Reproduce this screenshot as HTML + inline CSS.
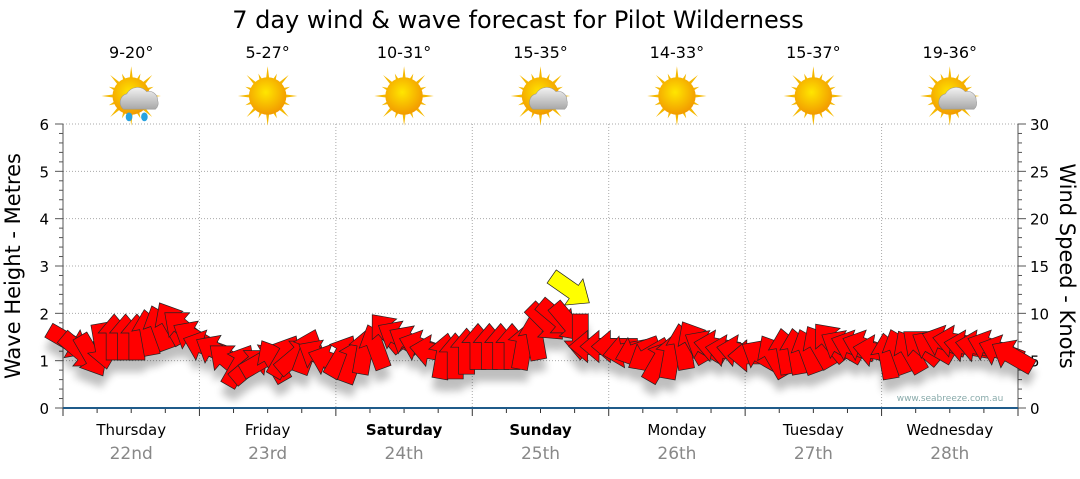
<!DOCTYPE html>
<html><head><meta charset="utf-8"><style>
body{margin:0;background:#fff;width:1080px;height:475px;overflow:hidden;font-family:"DejaVu Sans","Liberation Sans",sans-serif}
svg text{font-family:"DejaVu Sans","Liberation Sans",sans-serif}
</style></head><body>
<svg id="c" width="1080" height="475">
<defs>
<radialGradient id="sun" cx="45%" cy="40%" r="60%"><stop offset="0" stop-color="#ffe600"/><stop offset="1" stop-color="#f29a00"/></radialGradient>
<linearGradient id="cloud" x1="0" y1="0" x2="0" y2="1"><stop offset="0" stop-color="#f2f2f2"/><stop offset="1" stop-color="#a8a8a8"/></linearGradient>
<filter id="sh" x="-50%" y="-50%" width="200%" height="200%"><feGaussianBlur stdDeviation="4"/></filter>
</defs>
<text x="518" y="28" font-size="24" text-anchor="middle" fill="#000">7 day wind &amp; wave forecast for Pilot Wilderness</text>
<g id="grid"></g>
<g id="axes"></g>
<g id="icons"></g>
<g id="shadows" filter="url(#sh)" opacity="0.25"></g>
<g id="arrows"></g>
<text x="950" y="401" font-size="9" fill="#8aa" text-anchor="middle">www.seabreeze.com.au</text>
<text transform="translate(20,266) rotate(-90)" font-size="21" text-anchor="middle">Wave Height - Metres</text>
<text transform="translate(1060,266) rotate(90)" font-size="21" text-anchor="middle">Wind Speed - Knots</text>
</svg>
<script>
const days=["Thursday","Friday","Saturday","Sunday","Monday","Tuesday","Wednesday"];
const dates=["22nd","23rd","24th","25th","26th","27th","28th"];
const boldDays=[false,false,true,true,false,false,false];
const temps=["9-20°","5-27°","10-31°","15-35°","14-33°","15-37°","19-36°"];
const iconTypes=["rain","sun","sun","cloud","sun","sun","cloud"];
const leftTicks=[0,1,2,3,4,5,6];
const rightTicks=[0,5,10,15,20,25,30];
// wind speed (knots), 12 readings per day (every 2 h)
const windSpeed=[7.0,6.0,5.5,6.5,7.5,7.5,7.5,8.0,8.5,9.0,8.5,7.5,
 6.5,6.0,5.0,4.5,4.5,5.0,5.0,5.5,5.5,6.0,5.5,5.0,
 5.5,5.0,6.0,6.5,8.0,7.5,7.0,6.5,6.0,5.5,5.5,6.0,
 6.5,6.5,6.5,6.5,6.5,7.5,9.0,9.5,9.0,7.5,6.5,6.5,
 6.5,6.0,6.0,5.5,5.0,5.5,6.5,7.0,6.5,6.5,6.0,6.0,
 5.5,5.5,5.5,6.0,6.0,6.0,6.5,7.0,6.5,6.5,6.5,6.0,
 5.5,6.0,6.0,6.5,6.5,7.0,7.0,6.5,6.5,6.5,6.0,5.5];
// arrow pointing direction (deg, screen: 0=right, 90=down)
const windDir=[30,40,60,80,-90,-90,-90,-100,-110,-120,-140,-150,
 -160,-150,-140,-60,-40,-30,-120,-60,-40,-70,-150,-160,
 -60,-70,-80,-110,-130,-150,-150,-160,-170,-80,-90,-90,
 -90,-90,-90,-90,-80,-100,45,40,50,90,180,180,
 180,170,160,150,-60,-80,-100,-120,-150,-170,-170,-170,
 180,-150,-120,-100,-100,-110,-120,-130,-150,-160,-160,-170,
 -100,-110,-120,-140,-150,-160,-170,-170,-170,-160,-160,-150];
const gustX=[3.72];const gustSpeed=[12.5];const gustDir=[35];

const X0=63,X1=1018,Y0=408,Y1=124;
const dayW=(X1-X0)/7;
const xDay=d=>X0+d*dayW;
const yMetre=m=>Y0-m*(Y0-Y1)/6;
const yKn=k=>Y0-k*(Y0-Y1)/30;
const NS="http://www.w3.org/2000/svg";
function mk(t,a,p){const e=document.createElementNS(NS,t);for(const k in a)e.setAttribute(k,a[k]);p.appendChild(e);return e;}
const grid=document.getElementById('grid'),axes=document.getElementById('axes'),icons=document.getElementById('icons');
leftTicks.forEach(v=>{if(v>0){const l=mk('line',{x1:X0,x2:X1,y1:yMetre(v),y2:yMetre(v),stroke:'#aaa','stroke-dasharray':'1,2'},grid);

}
const t=mk('text',{x:X0-14,y:yMetre(v)+6,'font-size':15,'text-anchor':'end'},axes);t.textContent=v;

});
rightTicks.forEach(v=>{const t=mk('text',{x:X1+12,y:yKn(v)+6,'font-size':15},axes);t.textContent=v;

});
for(let i=0;i<=30;i++){const y=Y0-i*(Y0-Y1)/30;const len=i%5==0?8:4;
mk('line',{x1:X0-len,x2:X0,y1:y,y2:y,stroke:'#555'},axes);mk('line',{x1:X1,x2:X1+len,y1:y,y2:y,stroke:'#555'},axes);}
mk('line',{x1:X0,x2:X0,y1:Y1,y2:Y0,stroke:'#555'},axes);
mk('line',{x1:X1,x2:X1,y1:Y1,y2:Y0,stroke:'#555'},axes);
for(let d=1;d<7;d++){const l=mk('line',{x1:xDay(d),x2:xDay(d),y1:Y1,y2:Y0,stroke:'#aaa','stroke-dasharray':'1,2'},grid);

}
for(let q=0;q<=28;q++){const x=X0+q*dayW/4;mk('line',{x1:x,x2:x,y1:Y0,y2:Y0+(q%4==0?8:5),stroke:'#333'},axes);}
mk('line',{x1:X0,x2:X1,y1:Y0,y2:Y0,stroke:'#1f5b8a','stroke-width':2},axes);
days.forEach((d,i)=>{const cx=xDay(i+0.5);
const t=mk('text',{x:cx,y:435,'font-size':15,'text-anchor':'middle','font-weight':boldDays[i]?'bold':'normal'},axes);t.textContent=d;


const t2=mk('text',{x:cx,y:459,'font-size':17,'text-anchor':'middle',fill:'#888'},axes);t2.textContent=dates[i];


const t3=mk('text',{x:cx,y:58,'font-size':16,'text-anchor':'middle'},icons);t3.textContent=temps[i];


const g=mk('g',{transform:`translate(${cx},96) scale(1.1)`},icons);


for(let r=0;r<16;r++){const a=r*Math.PI/8;const L=r%2?22:27;
mk('polygon',{points:`${Math.cos(a-0.12)*14},${Math.sin(a-0.12)*14} ${Math.cos(a)*L},${Math.sin(a)*L} ${Math.cos(a+0.12)*14},${Math.sin(a+0.12)*14}`,fill:'#f5b800'},g);}
mk('circle',{r:17,fill:'url(#sun)'},g);
if(iconTypes[i]!='sun'){mk('path',{d:'M-7,12 a8,8 0 0 1 3,-14 a11,11 0 0 1 18,-2 a8,8 0 0 1 10,8 a7,7 0 0 1 -2,8 z',fill:'url(#cloud)',stroke:'#999','stroke-width':0.5},g);
if(iconTypes[i]=='rain'){mk('ellipse',{cx:-2,cy:19,rx:3,ry:4,fill:'#29a3e0'},g);mk('ellipse',{cx:12,cy:19,rx:3,ry:4,fill:'#29a3e0'},g);}}
});
const A='M-23,-8 L4,-8 L4,-16 L23,0 L4,16 L4,8 L-23,8 Z';
const sh=document.getElementById('shadows'),ar=document.getElementById('arrows');
windSpeed.forEach((k,i)=>{const x=X0+(i+0.5)*dayW/12,y=yKn(k);
mk('path',{d:A,transform:`translate(${x},${y+12}) rotate(${windDir[i]})`,fill:'#000'},sh);
const p=mk('path',{d:A,transform:`translate(${x},${y}) rotate(${windDir[i]})`,fill:'#ff0000',stroke:'#222','stroke-width':0.7},ar);

});
gustX.forEach((d,i)=>{const p=mk('path',{d:A,transform:`translate(${xDay(d)},${yKn(gustSpeed[i])}) rotate(${gustDir[i]})`,fill:'#ffff00',stroke:'#222','stroke-width':0.7},ar);

});
</script>
</body></html>
